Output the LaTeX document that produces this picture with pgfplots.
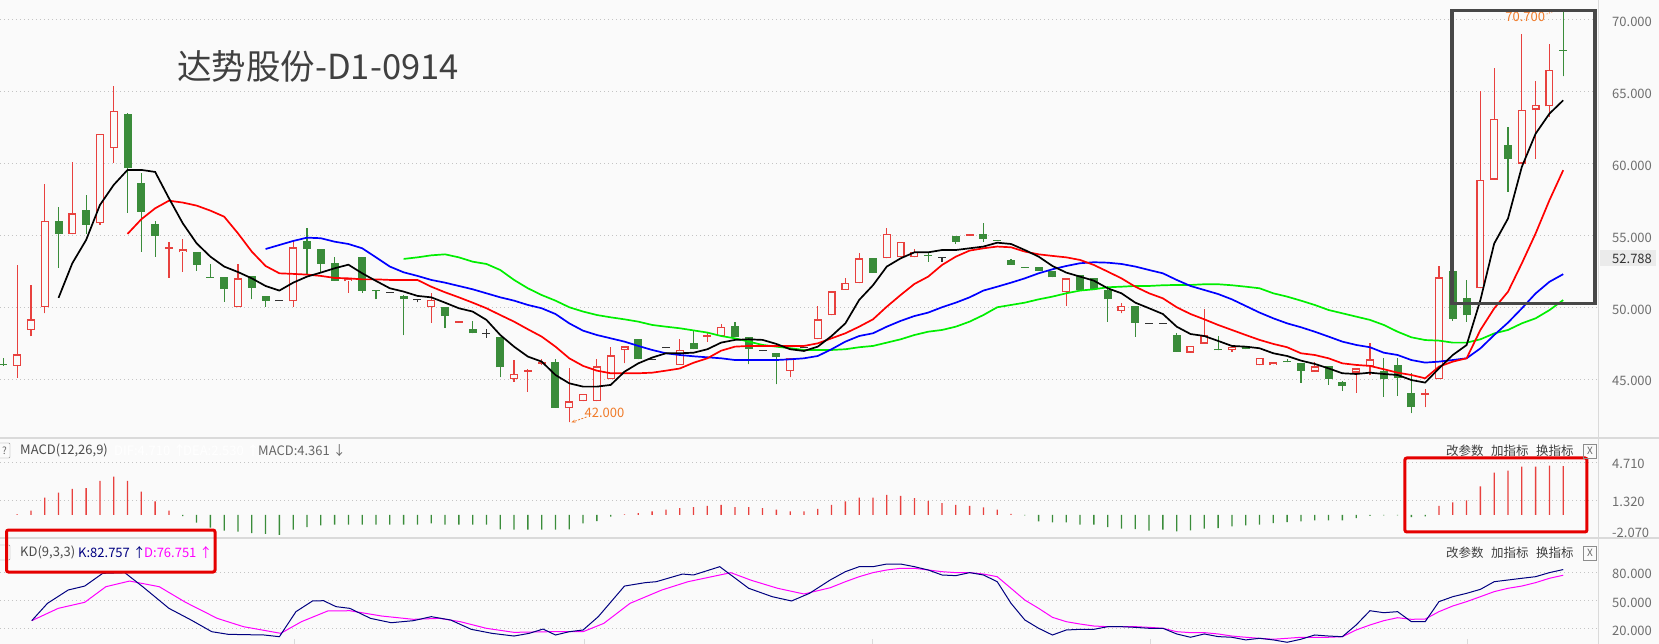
\documentclass[border=0pt]{standalone}
\usepackage{pgfplots}
\pgfplotsset{compat=1.18}
\usepackage{pgfplotstable}
\usepackage{fontspec}
\setmainfont{Noto Sans CJK SC}
\usetikzlibrary{arrows.meta}
\definecolor{bg}{HTML}{FAFAFA}
\definecolor{cup}{HTML}{E8413E}
\definecolor{cdn}{HTML}{3A8C3A}
\definecolor{cdj}{HTML}{333333}
\definecolor{gridc}{HTML}{C4C4C4}
\definecolor{lab}{HTML}{6E6E6E}
\definecolor{sep}{HTML}{DADADA}
\definecolor{ann}{HTML}{F07A28}
\definecolor{kcol}{HTML}{000080}
\definecolor{dcol}{HTML}{FF00FF}
\definecolor{ma5}{HTML}{000000}
\definecolor{ma10}{HTML}{FF0000}
\definecolor{ma20}{HTML}{0000FF}
\definecolor{ma30}{HTML}{00EE00}
\definecolor{boxc}{HTML}{EBEBEB}
\definecolor{ttl}{HTML}{404040}

\pgfplotstableread{
x o h l c
1 45.93 52.95 45.12 46.74
2 48.43 51.56 48.01 49.17
3 50.01 58.58 49.59 55.99
5 55.08 60.09 55.08 56.54
7 55.85 62.06 55.73 62.06
8 61.06 65.40 60.07 63.64
12 54.04 54.53 52.07 54.18
13 53.83 54.74 52.49 54.04
17 50.01 53.02 50.01 52.02
21 50.42 54.69 50.05 54.18
25 51.81 52.02 51.03 52.02
31 50.01 50.98 48.94 50.52
33 48.92 49.06 48.92 49.06
37 45.00 46.34 44.84 45.35
38 45.51 45.72 44.14 45.65
39 46.07 46.41 46.00 46.16
41 42.98 45.76 42.00 43.47
42 43.49 43.96 43.49 43.96
43 43.49 46.39 43.49 45.90
44 45.00 47.27 45.00 46.67
45 47.02 47.29 46.11 47.29
49 46.00 47.78 46.00 47.02
51 47.95 48.25 47.62 48.01
52 48.01 48.82 48.01 48.66
57 45.56 46.46 45.14 46.46
59 47.78 50.10 47.78 49.17
60 49.45 51.12 49.45 51.12
61 51.21 52.02 51.21 51.68
62 51.68 53.76 51.68 53.41
64 53.41 55.52 53.41 55.11
65 53.48 54.53 53.48 54.53
66 53.48 54.04 53.48 53.88
70 54.99 55.13 54.99 55.13
77 51.05 52.02 50.12 52.02
81 49.75 50.29 49.59 50.08
86 46.85 47.32 46.85 47.32
87 47.48 49.89 47.48 48.06
89 47.02 47.23 46.92 47.23
91 45.97 46.51 45.97 46.51
92 45.97 46.18 45.97 46.18
95 45.53 46.21 45.53 45.90
98 45.46 45.76 44.07 45.76
99 45.93 47.55 45.28 46.39
103 43.92 44.31 43.06 43.99
104 45.00 52.87 45.00 52.08
107 51.32 65.05 51.32 58.89
108 58.89 66.62 58.89 63.13
110 60.00 69.03 60.00 63.75
111 63.75 65.72 60.35 64.10
112 63.98 68.33 63.24 66.53
}\upT

\pgfplotstableread{
x o h l c
0 46.03 46.45 45.95 45.97
4 56.01 56.98 52.77 55.13
6 56.78 57.82 55.11 55.76
9 63.45 63.54 56.59 59.72
10 58.63 59.33 53.88 56.66
11 55.78 56.01 53.53 54.99
14 53.83 53.83 52.56 52.97
15 52.12 53.00 52.06 52.06
16 52.09 52.09 50.40 51.31
18 52.21 52.21 50.56 51.37
19 50.77 50.77 50.05 50.47
22 54.62 55.50 52.26 54.09
23 54.04 54.04 52.37 53.04
24 53.09 53.51 51.86 51.86
26 53.48 53.48 51.03 51.17
27 51.17 51.17 50.56 51.11
29 50.77 50.86 48.08 50.56
32 50.01 50.01 48.55 49.43
34 48.48 49.06 48.20 48.20
36 47.92 47.92 45.14 45.83
40 46.21 46.44 43.03 43.03
46 47.78 47.78 46.39 46.39
50 47.50 48.36 47.09 47.09
53 48.71 48.96 47.97 47.97
54 47.92 47.92 46.04 47.09
56 46.81 46.81 44.65 46.53
63 53.41 53.41 52.42 52.42
67 53.61 53.76 53.18 53.56
69 54.97 54.97 54.43 54.57
71 55.11 55.87 54.57 54.78
72 54.70 54.70 54.64 54.64
73 53.30 53.37 52.97 52.97
74 52.82 52.82 52.76 52.76
75 52.81 52.81 52.56 52.56
76 52.56 52.56 52.09 52.09
78 52.26 52.26 51.21 51.21
79 52.02 52.02 51.31 51.31
80 51.21 51.49 49.01 50.56
82 50.08 50.08 47.97 48.94
85 48.08 48.25 46.92 46.92
88 47.07 48.01 47.01 47.01
90 47.32 47.32 47.09 47.09
93 46.24 46.39 46.18 46.18
94 46.16 46.16 44.77 45.60
96 45.93 45.93 44.61 45.05
97 44.81 44.88 44.21 44.56
100 45.58 46.51 43.79 45.05
101 46.00 46.46 43.84 45.07
102 44.03 45.42 42.64 43.06
105 52.52 52.52 49.07 49.21
106 50.63 51.90 49.00 49.44
109 61.32 62.52 58.03 60.32
113 67.92 70.70 66.06 67.86
}\dnT

\pgfplotstableread{
x v h l
20 50.45 50.45 50.45
28 51.05 51.05 51.05
30 50.52 50.60 50.35
35 48.18 48.48 47.90
47 46.35 46.35 46.35
48 47.20 47.20 47.20
55 47.00 47.00 47.00
58 47.20 47.20 47.20
68 53.48 53.48 53.18
83 48.89 48.89 48.89
84 48.89 48.89 48.89
}\djT

\pgfplotstableread{
x y
1 0.05
2 0.39
3 1.55
4 1.99
5 2.33
6 2.40
7 3.04
8 3.43
9 3.04
10 2.09
11 1.20
12 0.39
45 0.05
46 0.16
47 0.31
48 0.46
49 0.61
50 0.69
51 0.81
52 0.90
53 0.69
54 0.69
55 0.61
56 0.46
57 0.31
58 0.31
59 0.54
60 0.90
61 1.20
62 1.55
63 1.55
64 1.79
65 1.70
66 1.50
67 1.26
68 1.05
69 0.90
70 0.81
71 0.66
72 0.46
73 0.10
104 0.81
105 1.11
106 1.29
107 2.54
108 3.79
109 3.97
110 4.32
111 4.32
112 4.41
113 4.36
}\macdUp

\pgfplotstableread{
x y
13 -0.11
14 -0.70
15 -1.15
16 -1.40
17 -1.50
18 -1.63
19 -1.70
20 -1.80
21 -1.33
22 -1.10
23 -0.95
24 -0.88
25 -0.88
26 -0.88
27 -0.88
28 -0.88
29 -0.88
30 -0.88
31 -0.75
32 -0.88
33 -0.88
34 -0.88
35 -0.88
36 -1.30
37 -1.33
38 -1.33
39 -1.33
40 -1.33
41 -1.30
42 -0.75
43 -0.55
44 -0.15
74 -0.05
75 -0.58
76 -0.67
77 -0.67
78 -0.88
79 -0.88
80 -1.09
81 -1.24
82 -1.27
83 -1.42
84 -1.33
85 -1.48
86 -1.39
87 -1.24
88 -1.18
89 -1.03
90 -0.94
91 -0.88
92 -0.73
93 -0.64
94 -0.58
95 -0.50
96 -0.50
97 -0.50
98 -0.29
99 -0.08
100 -0.05
101 -0.05
102 -0.20
103 -0.14
}\macdDn

\pgfplotsset{
  cwick/.style={only marks, mark=*, mark size=0pt, mark options={draw=none, fill=none}, forget plot,
    /pgfplots/error bars/y dir=plus, /pgfplots/error bars/y explicit,
    /pgfplots/error bars/error mark=none,
    /pgfplots/error bars/error bar style={draw=#1, line width=1.2pt}},
  cbody/.style 2 args={only marks, mark=*, mark size=0pt, mark options={draw=none, fill=none}, forget plot,
    /pgfplots/error bars/y dir=plus, /pgfplots/error bars/y explicit,
    /pgfplots/error bars/error mark=none,
    /pgfplots/error bars/error bar style={draw=#1, line width=#2}},
  panel/.style={scale only axis, width=1598pt, xmin=-0.239, xmax=115.52,
    at={(0,0)}, anchor=north west,
    axis line style={draw=none}, major tick length=0pt, xtick=\empty,
    ymajorgrids, grid style={gridc, line width=0.8pt, dash pattern=on 0.8pt off 3.2pt},
    yticklabel pos=right,
    yticklabel style={anchor=west, xshift=14pt, yshift=-2pt, inner sep=0pt, text=lab, font=\fontsize{13}{13}\selectfont},
    yticklabel={\pgfmathprintnumber[fixed,fixed zerofill,precision=3]{\tick}},
    /pgf/number format/assume math mode=true},
}

\begin{document}
\begin{tikzpicture}[x=1pt,y=1pt]
\useasboundingbox (0,0) rectangle (1659,-644);
\fill[bg] (0,0) rectangle (1659,-644);

% ---------------- main price panel ----------------
\begin{scope}
\begin{axis}[panel, height=438pt,
  ymin=40.918, ymax=71.376, ytick={45,50,55,60,65,70}]
\addplot[cwick=cup] table[x=x,y=l,y error plus expr=\thisrow{h}-\thisrow{l}] {\upT};
\addplot[cbody={cup}{8pt}] table[x=x,y=o,y error plus expr={max(\thisrow{c}-\thisrow{o},0.1)}] {\upT};
\addplot[cbody={bg}{5.6pt}] table[x=x,y expr=\thisrow{o}+0.085,y error plus expr={max(\thisrow{c}-\thisrow{o}-0.17,0)}] {\upT};
\addplot[cwick=cdn] table[x=x,y=l,y error plus expr=\thisrow{h}-\thisrow{l}] {\dnT};
\addplot[cbody={cdn}{8pt}] table[x=x,y=c,y error plus expr={max(\thisrow{o}-\thisrow{c},0.07)}] {\dnT};
\addplot[cwick=cdj] table[x=x,y=l,y error plus expr=\thisrow{h}-\thisrow{l}] {\djT};
\addplot[cbody={cdj}{8pt}] table[x=x,y expr=\thisrow{v}-0.035,y error plus expr=0.07] {\djT};

% MA30 (green)
\addplot[ma30, line width=1.7pt] coordinates {(29,53.37)(30,53.48)(31,53.62)(32,53.69)(33,53.48)(34,53.18)(35,53.02)(36,52.60)(37,51.91)(38,51.33)(39,50.86)(40,50.47)(41,50.01)(42,49.71)(43,49.47)(44,49.31)(45,49.17)(46,49.01)(47,48.78)(48,48.66)(49,48.55)(50,48.40)(51,48.25)(52,48.01)(53,47.85)(54,47.62)(55,47.39)(56,47.27)(57,47.16)(58,47.04)(59,47.04)(60,47.04)(61,47.09)(62,47.23)(63,47.32)(64,47.55)(65,47.78)(66,48.08)(67,48.31)(68,48.43)(69,48.66)(70,49.01)(71,49.47)(72,50.01)(73,50.17)(74,50.33)(75,50.56)(76,50.75)(77,50.98)(78,51.17)(79,51.26)(80,51.40)(81,51.44)(82,51.49)(83,51.49)(84,51.54)(85,51.56)(86,51.56)(87,51.61)(88,51.61)(89,51.54)(90,51.44)(91,51.33)(92,50.98)(93,50.75)(94,50.47)(95,50.17)(96,49.82)(97,49.59)(98,49.36)(99,49.13)(100,48.78)(101,48.31)(102,47.92)(103,47.73)(104,47.69)(105,47.55)(106,47.55)(107,47.78)(108,48.19)(109,48.43)(110,48.89)(111,49.24)(112,49.81)(113,50.51)};
% MA20 (blue)
\addplot[ma20, line width=1.7pt] coordinates {(19,54.06)(20,54.34)(21,54.62)(22,54.85)(23,54.81)(24,54.57)(25,54.41)(26,54.11)(27,53.48)(28,52.84)(29,52.44)(30,52.19)(31,51.91)(32,51.72)(33,51.49)(34,51.26)(35,50.98)(36,50.70)(37,50.47)(38,50.17)(39,49.94)(40,49.54)(41,48.89)(42,48.38)(43,48.08)(44,47.85)(45,47.62)(46,47.32)(47,47.04)(48,46.81)(49,46.69)(50,46.60)(51,46.53)(52,46.46)(53,46.34)(54,46.34)(55,46.34)(56,46.34)(57,46.39)(58,46.46)(59,46.62)(60,47.09)(61,47.62)(62,48.01)(63,48.20)(64,48.66)(65,49.06)(66,49.40)(67,49.64)(68,50.01)(69,50.33)(70,50.70)(71,51.17)(72,51.44)(73,51.72)(74,52.02)(75,52.37)(76,52.65)(77,52.88)(78,53.07)(79,53.14)(80,53.11)(81,53.02)(82,52.84)(83,52.60)(84,52.37)(85,51.91)(86,51.49)(87,51.21)(88,50.93)(89,50.56)(90,50.10)(91,49.64)(92,49.24)(93,48.89)(94,48.62)(95,48.31)(96,47.97)(97,47.62)(98,47.39)(99,47.23)(100,46.85)(101,46.69)(102,46.34)(103,46.16)(104,46.23)(105,46.34)(106,46.46)(107,47.15)(108,48.08)(109,48.94)(110,49.93)(111,50.97)(112,51.78)(113,52.31)};
% MA10 (red)
\addplot[ma10, line width=1.7pt] coordinates {(9,55.11)(10,56.13)(11,56.89)(12,57.42)(13,57.29)(14,57.08)(15,56.73)(16,56.31)(17,55.15)(18,53.88)(19,52.88)(20,52.37)(21,52.33)(22,52.28)(23,52.19)(24,52.05)(25,52.02)(26,51.95)(27,51.95)(28,51.91)(29,51.91)(30,51.91)(31,51.44)(32,51.05)(33,50.70)(34,50.33)(35,49.94)(36,49.47)(37,49.01)(38,48.48)(39,47.97)(40,47.27)(41,46.46)(42,45.93)(43,45.60)(44,45.42)(45,45.42)(46,45.42)(47,45.46)(48,45.60)(49,45.75)(50,46.15)(51,46.46)(52,46.99)(53,47.27)(54,47.32)(55,47.32)(56,47.32)(57,47.32)(58,47.32)(59,47.50)(60,47.85)(61,48.20)(62,48.66)(63,49.17)(64,50.05)(65,50.86)(66,51.63)(67,52.14)(68,52.95)(69,53.53)(70,53.95)(71,54.11)(72,54.23)(73,54.18)(74,53.88)(75,53.69)(76,53.58)(77,53.48)(78,53.30)(79,52.95)(80,52.49)(81,52.02)(82,51.44)(83,50.98)(84,50.63)(85,50.01)(86,49.54)(87,49.17)(88,48.78)(89,48.43)(90,48.08)(91,47.74)(92,47.46)(93,47.23)(94,46.81)(95,46.69)(96,46.46)(97,46.11)(98,46.00)(99,45.93)(100,45.70)(101,45.46)(102,45.30)(103,45.07)(104,45.88)(105,46.23)(106,46.46)(107,48.43)(108,49.93)(109,51.09)(110,53.06)(111,55.14)(112,57.45)(113,59.54)};
% MA5 (black)
\addplot[ma5, line width=1.7pt] coordinates {(4,50.66)(5,53.07)(6,54.69)(7,57.12)(8,58.52)(9,59.56)(10,59.56)(11,59.42)(12,57.59)(13,55.85)(14,54.46)(15,53.53)(16,52.84)(17,52.46)(18,52.02)(19,51.49)(20,51.17)(21,51.72)(22,52.14)(23,52.42)(24,52.72)(25,52.97)(26,52.37)(27,51.84)(28,51.33)(29,51.10)(30,50.80)(31,50.70)(32,50.33)(33,49.94)(34,49.71)(35,49.13)(36,48.08)(37,47.27)(38,46.58)(39,46.23)(40,45.30)(41,44.72)(42,44.49)(43,44.49)(44,44.61)(45,45.53)(46,46.11)(47,46.51)(48,46.81)(49,46.81)(50,46.85)(51,47.09)(52,47.55)(53,47.74)(54,47.78)(55,47.74)(56,47.46)(57,47.09)(58,46.97)(59,47.27)(60,48.01)(61,48.89)(62,50.52)(63,51.54)(64,52.84)(65,53.41)(66,53.83)(67,53.83)(68,53.99)(69,53.99)(70,54.11)(71,54.23)(72,54.50)(73,54.41)(74,53.99)(75,53.53)(76,52.88)(77,52.42)(78,52.14)(79,51.86)(80,51.33)(81,50.98)(82,50.33)(83,49.94)(84,49.54)(85,48.66)(86,48.15)(87,48.01)(88,47.67)(89,47.32)(90,47.27)(91,47.16)(92,46.81)(93,46.62)(94,46.30)(95,46.07)(96,45.76)(97,45.42)(98,45.37)(99,45.46)(100,45.37)(101,45.30)(102,44.95)(103,44.77)(104,45.76)(105,46.69)(106,47.38)(107,50.51)(108,54.44)(109,56.18)(110,59.77)(111,62.08)(112,63.47)(113,64.40)};

% annotations
\draw[ann, line width=0.8pt, dash pattern=on 2pt off 1.5pt, -{Stealth[length=4pt,width=3pt]}] (axis cs:42.25,42.38) -- (axis cs:41.15,42.0);
\node[ann, font=\fontsize{13}{13}\selectfont, inner sep=0pt] at (axis cs:43.55,42.66) {42.000};
\node[ann, font=\fontsize{13}{13}\selectfont, inner sep=0pt] at (axis cs:110.25,70.17) {70.700};
\draw[ann, line width=0.8pt, dash pattern=on 1pt off 1.5pt] (axis cs:111.8,70.40) -- (axis cs:112.55,70.68);
\draw[ann, line width=1.5pt] (axis cs:112.7,70.70) -- (axis cs:113.1,70.70);
\draw[black!72, line width=3.5pt] (axis cs:104.94,70.64) rectangle (axis cs:115.30,50.26);
\end{axis}
\end{scope}

% ---------------- MACD panel ----------------
\begin{scope}[yshift=-438pt]
\begin{axis}[panel, height=100pt,
  ymin=-2.07, ymax=6.878, ytick={1.32,4.71}, clip=false]
\addplot[ybar, bar width=1.3pt, bar shift=0pt, fill=cup, draw=none] table[x=x,y=y] {\macdUp};
\addplot[ybar, bar width=1.3pt, bar shift=0pt, fill=cdn, draw=none] table[x=x,y=y] {\macdDn};
\draw[red!90!black, line width=3pt, rounded corners=2pt] (axis cs:101.53,5.09) rectangle (axis cs:114.72,-1.53);
\end{axis}
\end{scope}

% ---------------- KD panel ----------------
\begin{scope}[yshift=-538pt]
\begin{axis}[panel, height=106pt,
  ymin=3.97, ymax=116.14, ytick={20,50,80}]
\addplot[dcol, line width=1pt] coordinates {(2.06,28.65)(3.98,41.7)(5.9,48.1)(7.43,64.6)(9.15,70.6)(11.3,64.6)(13.2,48.1)(15.5,31.1)(17.4,22.3)(20.1,15.25)(21.6,27.6)(23.5,38.9)(25.1,39.2)(27.4,33.6)(29.7,30.1)(31.6,31.1)(33.1,27.6)(35.0,20.55)(37.0,16.3)(39.6,17.0)(42.0,17.0)(43.5,25.8)(45.4,47.0)(47.7,61.1)(49.6,69.9)(52.7,79.45)(54.2,71.3)(56.1,62.9)(58.0,56.9)(59.9,63.5)(61,69.9)(62,75.2)(63,79.5)(64,82.3)(65,84.1)(66,84.1)(67,82.3)(68,80.5)(69,79.5)(70,79.5)(71,78.0)(72,75.2)(73,62.9)(74,50.5)(75,41.7)(76,32.2)(77,27.6)(78,25.1)(79,23.0)(80,22.3)(81,22.3)(82,22.3)(83,21.6)(84,20.6)(85,17.0)(86,16.0)(87,16.0)(88,14.6)(89,12.4)(90,11.1)(91,10.0)(92,9.0)(93,10.0)(94,11.1)(95,11.1)(96,11.1)(97,11.7)(98,18.8)(99,24.1)(100,28.65)(101,31.8)(102,30.1)(103,30.4)(104,38.2)(105,44.2)(106,48.8)(107,54.05)(108,59.4)(109,62.9)(110,65.3)(111,68.9)(112,73.5)(113,76.75)};
\addplot[kcol, line width=1pt] coordinates {(2.06,28.65)(3.2,47.0)(4.7,61.1)(5.9,65.3)(7.2,78.75)(8.8,79.45)(10.1,64.6)(12.0,41.7)(13.6,29.4)(15.1,17.0)(16.3,14.2)(18.9,13.5)(20.0,11.7)(21.2,38.2)(22.4,49.5)(23.2,49.8)(24.1,43.5)(25.1,41.7)(26.6,31.1)(28.1,26.5)(29.7,28.65)(31.0,32.9)(32.4,29.4)(33.9,19.5)(35.4,15.25)(37.0,12.4)(38.1,15.25)(39.1,19.8)(40.0,13.5)(41.0,17.0)(42.0,18.8)(43.1,32.9)(45.0,65.3)(46.5,68.9)(47.3,69.9)(49.2,78.0)(50.0,77.0)(51.9,85.8)(54.0,62.9)(55.7,54.05)(57.1,49.5)(58.4,57.6)(59.9,71.7)(61,80.5)(62,85.8)(63,85.8)(64,88.6)(65,88.6)(66,85.8)(67,82.3)(68,77.0)(69,76.3)(70,79.5)(71,77.0)(72,69.9)(73,47.0)(74,29.4)(75,20.6)(76,13.5)(77,18.8)(78,19.5)(79,19.5)(80,22.3)(81,22.3)(82,21.6)(83,20.6)(84,20.6)(85,14.6)(86,11.1)(87,14.6)(88,11.8)(89,11.1)(90,8.3)(91,10.0)(92,8.3)(93,5.8)(94,9.0)(95,13.5)(96,12.4)(97,11.7)(98,24.1)(99,39.2)(100,37.1)(101,38.2)(102,27.6)(103,27.6)(104,48.8)(105,54.05)(106,57.6)(107,61.8)(108,69.9)(109,71.7)(110,73.5)(111,75.2)(112,79.5)(113,82.76)};
\end{axis}
\end{scope}

% ---------------- frame and labels ----------------
\draw[sep, line width=1.2pt] (0,-438) -- (1659,-438);
\draw[sep, line width=1.2pt] (0,-538) -- (1659,-538);
\draw[sep, line width=1.2pt] (1598.5,0) -- (1598.5,-644);
\foreach \xx in {294,584,872,1150,1467} \draw[sep, line width=1pt] (\xx,-644) -- (\xx,-639);

\node[anchor=base west, inner sep=0pt, text=ttl, font=\fontsize{34.5}{34.5}\selectfont] at (177,-80) {达势股份-D1-0914};

\fill[boxc] (1600,-250.5) rectangle (1656,-266.5);
\node[anchor=west, inner sep=0pt, text=black!80, font=\fontsize{13}{13}\selectfont] at (1612,-258.5) {52.788};
\node[anchor=west, inner sep=0pt, text=lab, font=\fontsize{13}{13}\selectfont] at (1612,-533) {-2.070};

% MACD header
\draw[black!45, rounded corners=1pt] (-2,-443) rectangle (10,-458);
\node[inner sep=0pt, text=black!60, font=\fontsize{10}{10}\selectfont] at (4.5,-450.5) {?};
\node[anchor=west, inner sep=0pt, text=black!70, font=\fontsize{13}{13}\selectfont] at (20,-450.7) {MACD(12,26,9)};
\node[anchor=west, inner sep=0pt, text=white, font=\fontsize{13}{13}\selectfont] at (114,-450.7) {DIF:4.710 ↑};
\node[anchor=west, inner sep=0pt, text=white, font=\fontsize{13}{13}\selectfont] at (183,-450.7) {DEA:2.530 ↑};
\node[anchor=west, inner sep=0pt, text=black!60, font=\fontsize{13}{13}\selectfont] at (258,-450.7) {MACD:4.361 ↓};

% KD header
\draw[black!45, rounded corners=1pt] (-2,-545) rectangle (10,-560);
\node[anchor=west, inner sep=0pt, text=black!70, font=\fontsize{13}{13}\selectfont] at (20,-552.7) {KD(9,3,3)};
\node[anchor=west, inner sep=0pt, text=kcol, font=\fontsize{13}{13}\selectfont] at (78,-552.7) {K:82.757 ↑};
\node[anchor=west, inner sep=0pt, text=dcol, font=\fontsize{13}{13}\selectfont] at (144,-552.7) {D:76.751 ↑};
\draw[red!90!black, line width=3pt, rounded corners=2pt] (6.5,-530) rectangle (215,-572);

% right-side buttons
\foreach \yy in {451,552.7} {
  \node[anchor=west, inner sep=0pt, text=black!75, font=\fontsize{12.5}{12.5}\selectfont] at (1446,-\yy) {改参数};
  \node[anchor=west, inner sep=0pt, text=black!75, font=\fontsize{12.5}{12.5}\selectfont] at (1491,-\yy) {加指标};
  \node[anchor=west, inner sep=0pt, text=black!75, font=\fontsize{12.5}{12.5}\selectfont] at (1536,-\yy) {换指标};
  \draw[black!45] (1583.5,-\yy+7) rectangle (1596.5,-\yy-7);
  \node[inner sep=0pt, text=black!60, font=\fontsize{10}{10}\selectfont] at (1590,-\yy) {X};
}
\end{tikzpicture}
\end{document}
